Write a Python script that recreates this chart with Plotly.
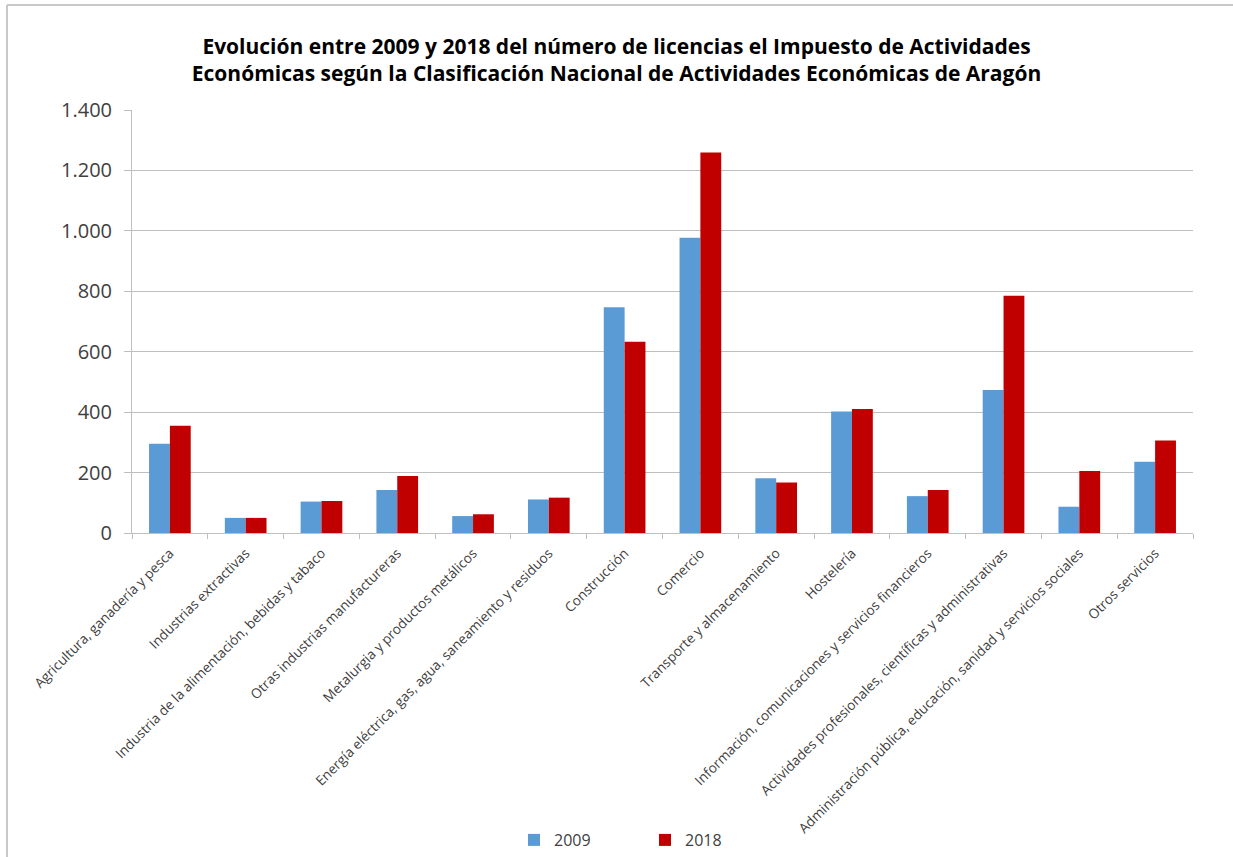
import plotly.graph_objects as go

categories = [
    "Agricultura, ganadería y pesca",
    "Industrias extractivas",
    "Industria de la alimentación, bebidas y tabaco",
    "Otras industrias manufactureras",
    "Metalurgia y productos metálicos",
    "Energía eléctrica, gas, agua, saneamiento y residuos",
    "Construcción",
    "Comercio",
    "Transporte y almacenamiento",
    "Hostelería",
    "Información, comunicaciones y servicios financieros",
    "Actividades profesionales, científicas y administrativas",
    "Administración pública, educación, sanidad y servicios sociales",
    "Otros servicios",
]
values_2009 = [295, 50, 104, 142, 56, 111, 747, 977, 181, 402, 122, 473, 87, 236]
values_2018 = [355, 50, 106, 189, 62, 117, 633, 1259, 167, 410, 142, 785, 205, 306]
y_ticks = [0, 200, 400, 600, 800, 1000, 1200, 1400]
y_tick_labels = ["0", "200", "400", "600", "800", "1.000", "1.200", "1.400"]

title_text = ("<b>Evolución entre 2009 y 2018 del número de licencias el Impuesto de Actividades<br>"
              "Económicas según la Clasificación Nacional de Actividades Económicas de Aragón</b>")

FONT = "Open Sans, sans-serif"
W, H = 1233, 857
L, R, T, B = 132, 40, 110, 324
PW, PH = W - L - R, H - T - B


def px_x(x):
    return (x - L) / PW


def px_y(y):
    return (H - B - y) / PH


fig = go.Figure()
fig.add_trace(go.Bar(name="2009", x=categories, y=values_2009, marker_color="#5B9BD5",
                     marker_line_width=0))
fig.add_trace(go.Bar(name="2018", x=categories, y=values_2018, marker_color="#C00000",
                     marker_line_width=0))

fig.update_layout(
    width=W, height=H,
    margin=dict(l=L, r=R, t=T, b=B, autoexpand=False),
    paper_bgcolor="white", plot_bgcolor="white",
    barmode="group", bargap=0.45, bargroupgap=0,
    title=dict(text=title_text, x=0.5, xanchor="center", y=1 - 54 / H, yanchor="middle",
               font=dict(family=FONT, size=21, color="#000000")),
    font=dict(family=FONT, color="#404040"),
    legend=dict(orientation="h", x=px_x(645), xanchor="center", y=px_y(840), yanchor="middle",
                font=dict(size=16, color="#404040"), entrywidth=86, entrywidthmode="pixels",
                itemwidth=30, traceorder="normal"),
    showlegend=True,
)
fig.update_yaxes(range=[0, 1400], tickvals=y_ticks, ticktext=y_tick_labels,
                 showgrid=True, gridcolor="#BFBFBF", gridwidth=1,
                 showline=True, linecolor="#BFBFBF", linewidth=1,
                 ticks="outside", ticklen=7, tickcolor="#BFBFBF",
                 ticklabelstandoff=8, automargin=False,
                 tickfont=dict(size=20, color="#404040", family=FONT),
                 zeroline=False)
fig.update_xaxes(tickangle=-45, tickfont=dict(size=13.6, color="#404040"),
                 showline=True, linecolor="#BFBFBF", linewidth=1,
                 ticks="outside", ticklen=5, tickcolor="#BFBFBF", tickson="boundaries",
                 ticklabelstandoff=6, automargin=False)

# outer chart border (top and left)
fig.add_shape(type="line", xref="paper", yref="paper",
              x0=px_x(7), x1=px_x(1233), y0=px_y(5), y1=px_y(5),
              line=dict(color="#C8C8C8", width=2))
fig.add_shape(type="line", xref="paper", yref="paper",
              x0=px_x(7), x1=px_x(7), y0=px_y(5), y1=px_y(857),
              line=dict(color="#C8C8C8", width=2))

fig.write_html("out.html", config={"displayModeBar": False},
               post_script="document.body.style.margin='0';document.body.style.overflow='hidden';")
